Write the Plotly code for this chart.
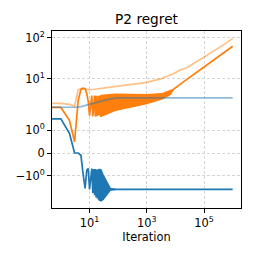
import numpy as np
import plotly.graph_objects as go

# ---------------- data ----------------
# dark blue line
blue_it = [0, 1, 2, 3, 4, 5, 6, 7, 8, 9, 10, 11, 12, 13, 14, 15, 16, 17, 18, 19, 20, 21, 22,
           40, 55, 80, 1000000]
blue_val = [1.5, 1.5, 0.85, 0.0, 0.0, -0.1, -0.95, -1.55, -0.75, -0.68, -1.6, -0.9, -0.68, -1.75,
            -0.7, -1.85, -0.7, -1.95, -0.72, -2.0, -0.72, -2.1, -0.73,
            -1.5, -1.6, -1.6, -1.6]
# dark blue oscillation band (dense part)
blue_band_it = [20, 25, 30, 40, 53, 65, 80]
blue_band_lo = [-2.1, -2.29, -2.11, -1.81, -1.63, -1.61, -1.6]
blue_band_hi = [-0.72, -0.73, -0.97, -1.28, -1.55, -1.58, -1.6]

# dark orange line
orange_it = [0, 1, 2, 3, 4, 5, 6, 7, 8, 9, 10, 11, 12, 13, 15, 16, 17, 18, 20, 21, 22, 23, 24, 25,
             40, 80, 300, 1000, 3300, 6500, 8500, 14600, 21800, 100000, 300000, 1000000]
orange_val = [2.0, 2.0, 1.42, 0.49, 2.9, 5.5, 5.9, 5.7, 4.3, 2.8, 1.64, 2.6, 3.9, 1.6, 3.9, 1.6,
              3.85, 1.62, 3.85, 1.65, 3.85, 1.65, 3.9, 1.6,
              2.8, 3.0, 3.1, 3.3, 3.75, 4.6, 5.5, 7.4, 9.0, 19.4, 33.4, 62.0]
# dark orange oscillation band (dense part)
orange_band_it = [24, 80, 300, 1000, 3300, 6500, 8500]
orange_band_lo = [1.6, 1.87, 2.07, 2.5, 3.2, 4.1, 5.5]
orange_band_hi = [3.9, 4.2, 4.15, 4.1, 4.3, 5.2, 5.5]

# light blue line
lblue_it = [0, 1, 2, 3, 4, 5, 7, 10, 23, 50, 90, 1000000]
lblue_val = [2.0, 2.0, 2.0, 2.0, 2.04, 2.1, 2.24, 2.44, 2.77, 3.18, 3.4, 3.4]

# light orange line
lorange_it = [0, 1, 2, 3, 4, 5, 6, 7, 8, 10, 15, 24, 90, 345, 1000, 3000, 8500, 14600, 25000,
              100000, 280000, 1000000]
lorange_val = [2.5, 2.5, 2.37, 2.15, 5.3, 5.75, 5.75, 5.7, 5.6, 5.4, 5.55, 5.83, 6.7, 7.4, 8.15,
               9.9, 13.3, 16.2, 18.6, 33.5, 52.7, 95.0]

y_tick_values = [100, 10, 1, 0, -1]
y_tick_labels = ["10<sup>2</sup>", "10<sup>1</sup>", "10<sup>0</sup>", "0", "\u221210<sup>0</sup>"]
x_tick_values = [10, 1000, 100000]
x_tick_labels = ["10<sup>1</sup>", "10<sup>3</sup>", "10<sup>5</sup>"]

# ---------------- symlog transform (matplotlib style, linthresh=2) ----------------
LINTHRESH = 2.0
ADJ = 1.0 / (1.0 - 1.0 / 10.0)


def symlog(v):
    v = np.asarray(v, dtype=float)
    a = np.abs(v)
    outside = np.sign(v) * LINTHRESH * (ADJ + np.log10(np.maximum(a, 1e-300) / LINTHRESH))
    return np.where(a <= LINTHRESH, v * ADJ, outside)


def xclip(it):
    # iteration 0 cannot be drawn on a log axis: push it off the left edge like matplotlib does
    it = np.asarray(it, dtype=float)
    return np.where(it > 0, it, 0.1)


BLUE = "#1f77b4"
ORANGE = "#ff7f0e"
LW = 1.7

fig = go.Figure()

# dark blue band + line
fig.add_trace(go.Scatter(x=xclip(blue_band_it), y=symlog(blue_band_lo), mode="lines",
                         line=dict(color=BLUE, width=1.4), showlegend=False, hoverinfo="skip"))
fig.add_trace(go.Scatter(x=xclip(blue_band_it), y=symlog(blue_band_hi), mode="lines",
                         line=dict(color=BLUE, width=1.4), fill="tonexty", fillcolor=BLUE,
                         showlegend=False, hoverinfo="skip"))
fig.add_trace(go.Scatter(x=xclip(blue_it), y=symlog(blue_val), mode="lines",
                         line=dict(color=BLUE, width=LW), showlegend=False))

# dark orange band + line
fig.add_trace(go.Scatter(x=xclip(orange_band_it), y=symlog(orange_band_lo), mode="lines",
                         line=dict(color=ORANGE, width=1.4), showlegend=False, hoverinfo="skip"))
fig.add_trace(go.Scatter(x=xclip(orange_band_it), y=symlog(orange_band_hi), mode="lines",
                         line=dict(color=ORANGE, width=1.4), fill="tonexty", fillcolor=ORANGE,
                         showlegend=False, hoverinfo="skip"))
fig.add_trace(go.Scatter(x=xclip(orange_it), y=symlog(orange_val), mode="lines",
                         line=dict(color=ORANGE, width=LW), showlegend=False))

# light lines
fig.add_trace(go.Scatter(x=xclip(lblue_it), y=symlog(lblue_val), mode="lines",
                         line=dict(color="rgba(31,119,180,0.5)", width=LW), showlegend=False))
fig.add_trace(go.Scatter(x=xclip(lorange_it), y=symlog(lorange_val), mode="lines",
                         line=dict(color="rgba(255,127,14,0.5)", width=LW), showlegend=False))

FONT = "DejaVu Sans"
grid = dict(showgrid=True, gridcolor="#d4d4d4", gridwidth=0.9, griddash="3.4px,1.6px")
axis_common = dict(showline=True, linecolor="black", linewidth=0.9, mirror=True,
                   ticks="outside", ticklen=4, tickwidth=0.9, tickcolor="black",
                   zeroline=False, automargin=False,
                   tickfont=dict(family=FONT, size=11.4, color="black"), **grid)

fig.update_xaxes(type="log", range=[-0.311, 6.29], tickvals=x_tick_values, ticktext=x_tick_labels,
                 title=dict(text="Iteration", font=dict(family=FONT, size=11.4, color="black"),
                            standoff=0),
                 **axis_common)
fig.update_yaxes(range=[-2.681, 5.948], tickvals=symlog(y_tick_values), ticktext=y_tick_labels,
                 **axis_common)

# the page body adds an 8px offset, so the figure is 8px smaller with 8px less left/top margin
W = H = 246
fig.update_layout(
    width=W, height=H,
    margin=dict(l=44, r=13, t=23, b=46),
    paper_bgcolor="white", plot_bgcolor="white",
    title=dict(text="P2 regret", x=0.5, xref="paper", xanchor="center",
               y=1 - 11.5 / H, yref="container", yanchor="middle",
               font=dict(family=FONT, size=13.7, color="black")),
    font=dict(family=FONT, color="black"),
)

fig.write_html("out.html")
